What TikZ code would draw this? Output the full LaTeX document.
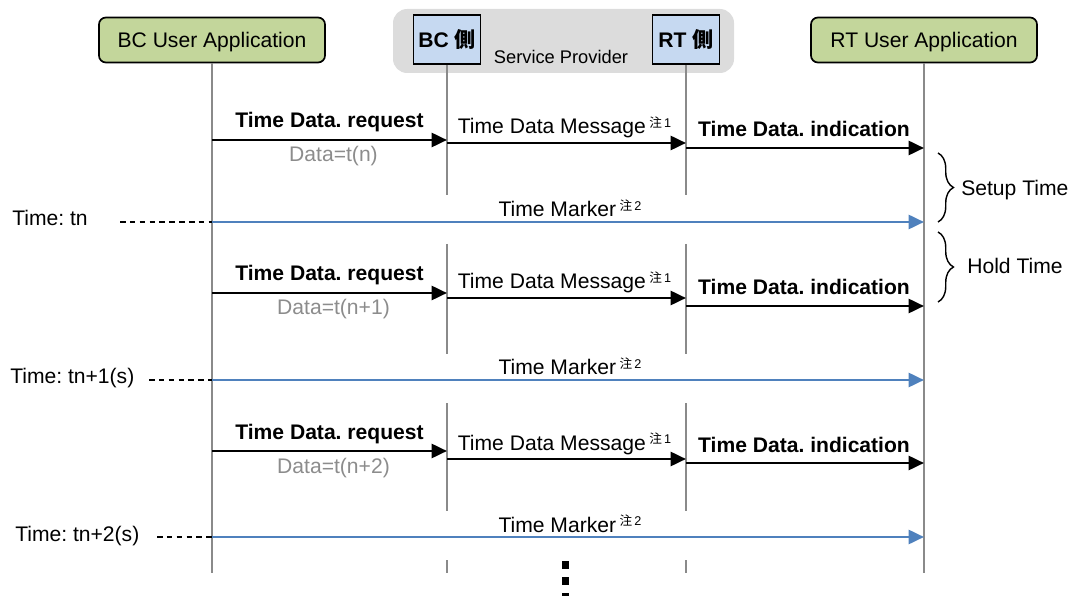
\documentclass[tikz,border=0pt]{standalone}
\usepackage{fontspec}
\setmainfont{Liberation Sans}
\newfontfamily\cjk{Noto Sans CJK JP}
\usetikzlibrary{arrows.meta, calc, decorations.pathreplacing}
\definecolor{appgreen}{HTML}{C3D69B}
\definecolor{sideblue}{HTML}{C6D9F1}
\definecolor{provgray}{HTML}{DCDCDC}
\definecolor{markblue}{HTML}{4F81BD}
\definecolor{lifegray}{HTML}{8A8A8A}
\definecolor{datagray}{HTML}{8C8C8C}
\newcommand{\chu}[1]{\,\raisebox{0.6ex}{\fontsize{9}{10}\selectfont{\cjk 注}\,#1}}
\frenchspacing

\begin{document}
\begin{tikzpicture}[x=0.025cm, y=-0.025cm,
  >={Triangle[length=11pt, width=10pt]},
  every node/.style={font=\fontsize{15}{18}\selectfont, inner sep=0pt},
  appbox/.style={draw=black, line width=1.2pt, fill=appgreen, rounded corners=5pt,
    minimum width=5.65cm, minimum height=1.125cm, text depth=0pt},
  sidebox/.style={draw=black, line width=1.2pt, fill=sideblue,
    minimum width=1.675cm, minimum height=1.225cm,
    font=\fontsize{15}{18}\selectfont\bfseries},
  life/.style={lifegray, line width=1.2pt},
  msg/.style={->, black, line width=2pt},
  markarrow/.style={->, markblue, line width=2pt},
  dashline/.style={black, line width=1pt, dash pattern=on 4pt off 3pt},
  boldlbl/.style={anchor=base, font=\fontsize{15}{18}\selectfont\bfseries},
  plainlbl/.style={anchor=base},
  datalbl/.style={anchor=base, text=datagray}]

\useasboundingbox (0,0) rectangle (1071,596);

% Service provider background
\fill[provgray, rounded corners=10pt] (393,9) rectangle (734,73);
\node[font=\fontsize{13}{15}\selectfont] (prov) at (561,57) {Service Provider};

% Participants
\node[appbox] (bcapp) at (212,40) {BC User Application};
\node[appbox] (rtapp) at (924,40) {RT User Application};
\node[sidebox] (bcside) at (447,39.5) {BC {\cjk 側}};
\node[sidebox] (rtside) at (686,39.5) {RT {\cjk 側}};

% Lifelines
\draw[life] (bcapp.south) -- (bcapp |- 0,573);
\draw[life] (rtapp.south) -- (rtapp |- 0,573);
\draw[life] (bcside.south) -- (bcside |- 0,195);
\draw[life] (rtside.south) -- (rtside |- 0,195);
\foreach \a/\b in {244/354, 403/511, 560/573} {
  \draw[life] (bcside |- 0,\a) -- (bcside |- 0,\b);
  \draw[life] (rtside |- 0,\a) -- (rtside |- 0,\b);
}

% Message rows
\foreach \i/\yr/\ym/\yi/\yt/\xt/\xd/\tn/\dn in
  {1/140/143/148/222/12/120/tn/n,
   2/293/298/306/380/10/149/tn+1(s)/n+1,
   3/451/459/463/537/15/157/tn+2(s)/n+2} {
  % request
  \coordinate (rqa\i) at (bcapp |- 0,\yr);
  \coordinate (rqb\i) at (bcside |- 0,\yr);
  \draw[msg] (rqa\i) -- (rqb\i);
  \node[boldlbl] (rql\i) at ($(rqa\i)!0.5!(rqb\i)+(0,-12)$) {Time Data. request};
  \node[datalbl] (dat\i) at ($(rqa\i)!0.5!(rqb\i)+(4,22)$) {Data=t(\dn)};
  % message
  \coordinate (msa\i) at (bcside |- 0,\ym);
  \coordinate (msb\i) at (rtside |- 0,\ym);
  \draw[msg] (msa\i) -- (msb\i);
  \node[plainlbl] (msl\i) at ($(msa\i)!0.5!(msb\i)+(-2,-9)$) {Time Data Message\chu{1}};
  % indication
  \coordinate (ina\i) at (rtside |- 0,\yi);
  \coordinate (inb\i) at (rtapp |- 0,\yi);
  \draw[msg] (ina\i) -- (inb\i);
  \node[boldlbl] (inl\i) at ($(ina\i)!0.5!(inb\i)+(-1,-11)$) {Time Data. indication};
  % time marker
  \coordinate (tms\i) at (\xd,\yt);
  \coordinate (tma\i) at (bcapp |- 0,\yt);
  \coordinate (tmb\i) at (rtapp |- 0,\yt);
  \draw[dashline] (tms\i) -- (tma\i);
  \draw[markarrow] (tma\i) -- (tmb\i);
  \node[plainlbl] (tml\i) at ($(tma\i)!0.5!(tmb\i)+(2,-5)$) {Time Marker\chu{2}};
  \node[anchor=base west] (tim\i) at (\xt,\yt+4) {Time: \tn};
}

% Setup / hold time
\draw[line width=1pt, decorate, decoration={brace, amplitude=11pt}] (938,153) -- (938,222);
\node[anchor=west] (setup) at (961,190) {Setup Time};
\draw[line width=1pt, decorate, decoration={brace, amplitude=11pt}] (938,232) -- (938,302);
\node[anchor=west] (hold) at (967,266) {Hold Time};

% Continuation dots
\foreach \yd in {561, 577, 593} {
  \fill (562,\yd) rectangle +(7,8);
}

\end{tikzpicture}
\end{document}
